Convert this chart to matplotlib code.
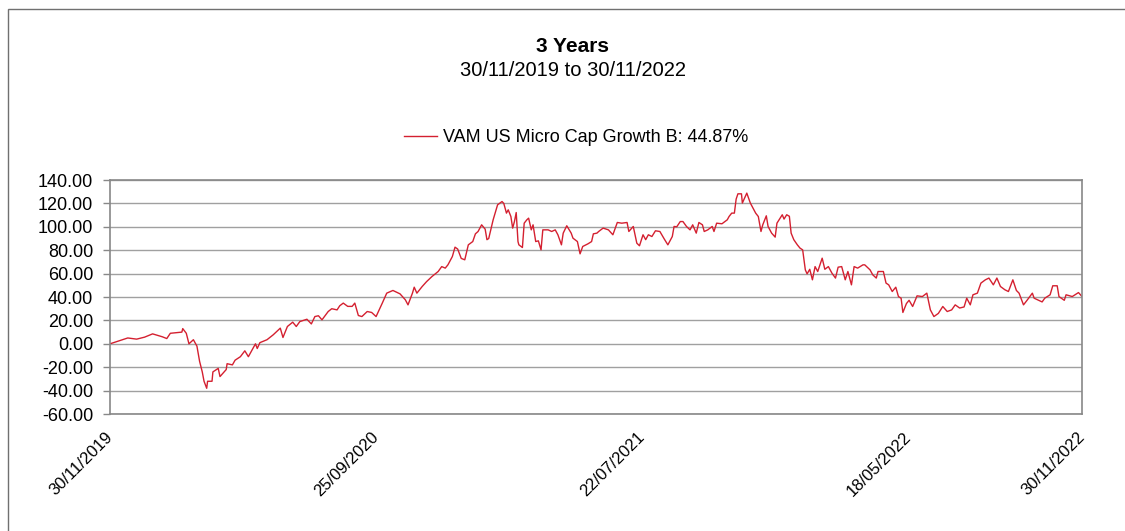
import numpy as np
import matplotlib
matplotlib.use('Agg')
import matplotlib.pyplot as plt
import matplotlib.dates as mdates
from matplotlib.patches import Rectangle

plt.rcParams['font.family'] = ['Liberation Sans', 'DejaVu Sans']

# dias desde 30/11/2019 e valores
dias = [0, 20, 30, 39, 48, 59, 64, 68, 81, 82, 86, 89, 94, 98, 101, 104, 106, 109, 110, 115,
        116, 122, 124, 131, 132, 138, 141, 147, 152, 156, 164, 166, 169, 177, 184, 192, 195, 200, 206, 210,
        214, 222, 227, 231, 235, 239, 246, 250, 256, 259, 263, 268, 273, 276, 280, 284, 290, 295, 300, 307,
        312, 319, 327, 333, 336, 341, 343, 346, 352, 357, 363, 370, 374, 378, 381, 386, 389, 392, 396, 400,
        404, 409, 412, 415, 419, 423, 425, 427, 432, 437, 442, 444, 447, 449, 452, 454, 456, 458, 460, 461,
        465, 467, 470, 472, 475, 477, 480, 483, 486, 488, 494, 498, 502, 505, 509, 511, 515, 520, 522, 527,
        530, 533, 539, 543, 545, 549, 551, 556, 562, 567, 572, 577, 583, 585, 590, 594, 597, 601, 604, 607,
        611, 615, 620, 625, 629, 634, 636, 639, 643, 646, 650, 654, 657, 661, 664, 668, 670, 674, 679, 681,
        684, 690, 696, 698, 701, 704, 706, 708, 712, 713, 715, 718, 722, 725, 728, 731, 734, 736, 740, 742,
        746, 750, 752, 758, 760, 763, 766, 768, 771, 775, 778, 781, 784, 786, 789, 792, 795, 798, 803, 806,
        810, 814, 818, 821, 825, 829, 832, 836, 839, 843, 849, 851, 857, 860, 864, 866, 872, 875, 878, 882,
        886, 889, 892, 894, 898, 901, 905, 910, 916, 921, 925, 929, 934, 939, 944, 949, 953, 958, 963, 966,
        970, 973, 978, 982, 987, 991, 996, 1000, 1004, 1009, 1013, 1018, 1022, 1025, 1030, 1034, 1040, 1042, 1046, 1051,
        1054, 1060, 1063, 1068, 1070, 1076, 1078, 1085, 1088, 1092, 1096]

valores = [0, 5, 4, 5.7, 8.5, 6, 4.5, 9, 10, 13, 9, 0, 3.5, -2, -15, -24, -32, -38, -32, -32,
           -24, -21, -28, -22, -17, -18, -14, -11, -6, -11, 0, -4, 1, 3.5, 7.7, 13.4, 5.4, 14.8, 18.5, 14.8,
           19, 21, 17, 23.3, 24, 20.5, 27.6, 30, 29, 32.5, 34.8, 32, 32, 34.8, 24.2, 23.3, 27.6, 26.8, 23.3, 34.8,
           43.3, 45.6, 42.7, 37.6, 33.3, 43.3, 48.4, 43.3, 49, 53.2, 57.5, 61.8, 66, 64.7, 67.5, 74.6, 82.6, 81, 73, 71.8,
           84.6, 87.4, 94, 96, 101.7, 98, 89, 90, 106, 118.8, 121.6, 120, 111.7, 114.5, 108.8, 98.9, 104.5, 112.2, 87.4, 84.6,
           82.3, 103.1, 106, 107.4, 97.4, 101.7, 87.4, 88, 80.3, 97.4, 97.4, 96, 97.4, 93.2, 84.6, 94.6, 100.9, 94.6, 90.3, 87.4,
           76.9, 83.2, 85.5, 87.4, 94, 94.6, 96, 98.9, 97.4, 93.2, 103.7, 103.1, 103.7, 96, 100.3, 86, 83.8, 93.2, 89, 93.2,
           91.7, 96.6, 96, 89.5, 84.6, 91.7, 100.3, 100, 104.5, 104.5, 100.3, 97.4, 101.7, 94.6, 103.7, 101.7, 96, 97.4, 100.3, 96,
           103.1, 102.6, 106, 108.8, 111.7, 111.7, 123.7, 128.2, 128.2, 120.3, 123.7, 128.8, 120.3, 116, 111.7, 108.8, 96, 101.7, 109.4, 100.3,
           94.6, 91.2, 103.1, 110.3, 106.6, 110.3, 109, 94.6, 89, 84.6, 81.8, 80.3, 63.2, 59.8, 63.7, 54.7, 66, 61.8, 73.2, 63.7,
           66, 60.4, 56.2, 65.5, 66, 54.7, 61.8, 50.4, 66, 64.7, 67.5, 67.5, 63.2, 59, 56.2, 61.8, 61.8, 51.9, 50.4, 44.7,
           48.4, 40.4, 39, 26.8, 34.4, 37.2, 31.9, 41, 40.4, 43.3, 29, 23.3, 26, 31.9, 27.6, 29, 33.3, 30.6, 31.5, 39,
           33.3, 41.9, 43.3, 51.9, 54.7, 56.2, 50.4, 56.2, 49, 46.2, 44.7, 54.7, 45.6, 43.3, 33.3, 37.2, 43.3, 39, 37.6, 35.8,
           39, 41.9, 49.6, 49.6, 40.4, 37.2, 41.9, 40.4, 41.9, 43.8, 40.4]

inicio = np.datetime64('2019-11-30')
datas = inicio + np.array(dias, dtype='timedelta64[D]')

datas_ticks = ['2019-11-30', '2020-09-25', '2021-07-22', '2022-05-18', '2022-11-30']
nome_serie = 'VAM US Micro Cap Growth B: 44.87%'

fig = plt.figure(figsize=(11.25, 5.31), dpi=100)
ax = fig.add_axes([0.0978, 0.2203, 0.8640, 0.4407])

ax.plot(datas, valores, color='#d42030', linewidth=1.0, label=nome_serie)

ax.set_ylim(-60, 140)
ax.set_yticks(np.arange(-60, 141, 20))
ax.set_yticklabels(['%.2f' % v for v in np.arange(-60, 141, 20)])
ax.set_xlim(inicio, np.datetime64('2022-11-30'))
ax.set_xticks(np.array(datas_ticks, dtype='datetime64[D]'))
ax.xaxis.set_major_formatter(mdates.DateFormatter('%d/%m/%Y'))

ax.grid(True, axis='y', color='#a0a0a0', linewidth=1)
ax.set_axisbelow(True)
for s in ax.spines.values():
    s.set_color('#888888')
    s.set_linewidth(1.2)

ax.tick_params(axis='y', length=5, width=1, color='#888888', pad=7, labelsize=13)
ax.tick_params(axis='x', length=0, pad=15, labelsize=12)
for lbl in ax.get_xticklabels():
    lbl.set_rotation(45)
    lbl.set_rotation_mode('anchor')
    lbl.set_ha('right')
    lbl.set_va('center')

# titulo e legenda
fig.text(0.509, 1 - 46 / 531, '3 Years', ha='center', va='center', fontsize=15, fontweight='bold')
fig.text(0.509, 1 - 70 / 531, '30/11/2019 to 30/11/2022', ha='center', va='center', fontsize=14.5)
fig.legend(loc='center', bbox_to_anchor=(0.512, 1 - 138 / 531), frameon=False, fontsize=13,
           handlelength=1.85, handletextpad=0.35)

# moldura em volta da figura (so aparecem o topo e a esquerda)
fig.add_artist(Rectangle((8 / 1125, -0.1), 1.1, 1.1 - 9 / 531, transform=fig.transFigure,
                         fill=False, edgecolor='#707070', linewidth=1))

fig.savefig('out.png', dpi=100)
